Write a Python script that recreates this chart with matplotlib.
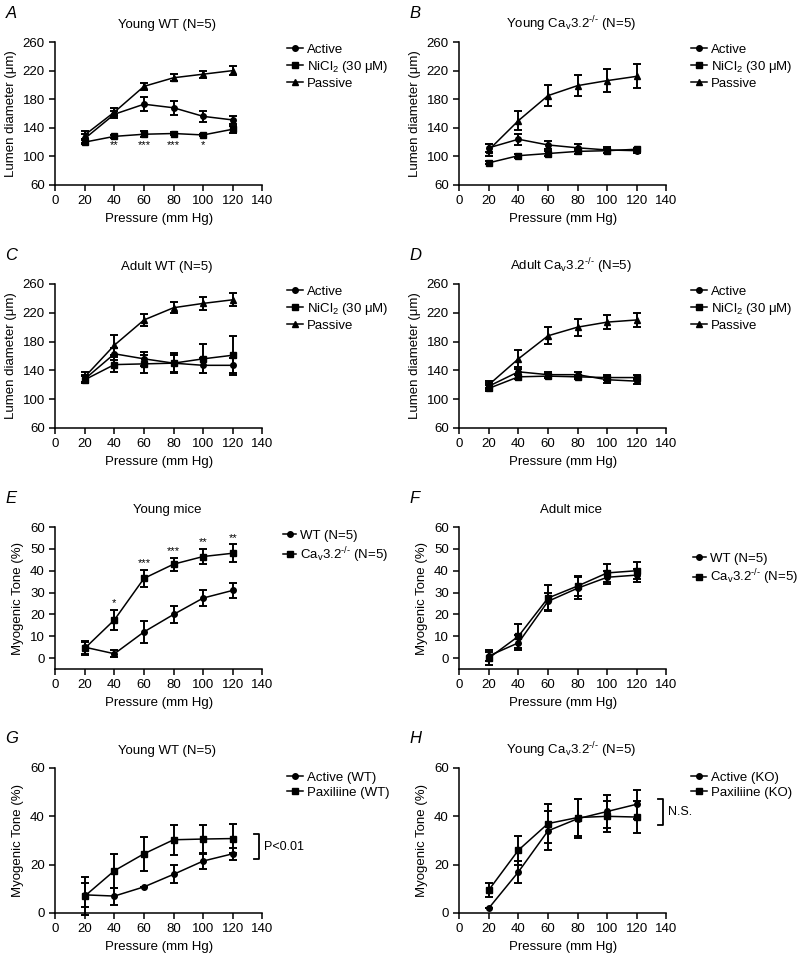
import matplotlib
matplotlib.use("Agg")
import matplotlib.pyplot as plt
import numpy as np

plt.rcParams['font.family'] = ['Liberation Sans', 'DejaVu Sans']
plt.rcParams['mathtext.fontset'] = 'custom'
plt.rcParams['mathtext.rm'] = 'Liberation Sans'
plt.rcParams['mathtext.it'] = 'Liberation Sans:italic'

pressure = [20, 40, 60, 80, 100, 120]
CAV = r'Ca$_\mathrm{v}$3.2$^{\text{-/-}}$'

# A: young WT lumen diameter
a_active = [125, 159, 173, 168, 156, 151]
a_active_err = [6, 5, 10, 10, 8, 6]
a_nicl = [120, 128, 131, 132, 130, 138]
a_nicl_err = [3, 2, 4, 2, 2, 5]
a_passive = [130, 162, 198, 210, 215, 220]
a_passive_err = [6, 5, 5, 5, 5, 6]
a_star_x = [40, 60, 80, 100]
a_star_txt = ['**', '***', '***', '*']

# B: young Cav3.2-/- lumen diameter
b_active = [112, 124, 116, 112, 109, 108]
b_active_err = [6, 8, 6, 5, 4, 3]
b_nicl = [91, 101, 104, 107, 108, 110]
b_nicl_err = [2, 3, 3, 3, 3, 2]
b_passive = [109, 150, 185, 199, 206, 212]
b_passive_err = [8, 13, 15, 15, 16, 17]

# C: adult WT lumen diameter
c_active = [128, 163, 156, 150, 147, 147]
c_active_err = [6, 8, 10, 12, 10, 10]
c_nicl = [127, 148, 149, 150, 156, 161]
c_nicl_err = [5, 10, 12, 14, 20, 27]
c_passive = [131, 175, 210, 227, 233, 238]
c_passive_err = [7, 14, 8, 8, 9, 9]

# D: adult Cav3.2-/- lumen diameter
d_active = [118, 138, 134, 134, 127, 125]
d_active_err = [4, 4, 4, 4, 4, 4]
d_nicl = [115, 131, 132, 131, 130, 130]
d_nicl_err = [4, 3, 3, 3, 3, 4]
d_passive = [120, 156, 188, 200, 207, 210]
d_passive_err = [5, 12, 12, 12, 10, 10]

# E: young mice myogenic tone
e_wt = [5, 2, 12, 20, 27.5, 31]
e_wt_err = [3, 1.5, 5, 4, 3.5, 3.5]
e_ko = [4.5, 17.5, 36.5, 43, 46.5, 48]
e_ko_err = [3, 4.5, 4, 3, 3.5, 4]
e_star_txt = ['*', '***', '***', '**', '**']

# F: adult mice myogenic tone
f_wt = [1, 7, 26, 32, 37, 38]
f_wt_err = [2.5, 3.5, 4, 5, 3, 3]
f_ko = [0, 10, 27.5, 33, 39, 40]
f_ko_err = [3, 5.5, 6, 4.5, 4, 4]

# G: young WT, active vs paxilline
g_active = [7.5, 7, 10.8, 16, 21.5, 24.5]
g_active_err = [5, 3.5, 0, 3.8, 3.5, 2.5]
g_pax = [7, 17.5, 24.5, 30.3, 30.6, 30.8]
g_pax_err = [8, 7, 7, 6.3, 6, 6]
g_bracket = (22.5, 32.5)

# H: young Cav3.2-/-, active vs paxilline
h_active = [2, 17, 34, 39, 42, 45]
h_active_err = [0, 4.5, 8, 8, 7, 6]
h_pax = [9.5, 26, 37, 39.5, 40, 39.7]
h_pax_err = [3, 6, 8, 7.5, 6.5, 6.5]
h_bracket = (36.5, 47)

fig = plt.figure(figsize=(8, 9.57), dpi=100)
W = 0.259
cols = [0.069, 0.574]
rows = [(0.8067, 0.1494), (0.5528, 0.1505), (0.3009, 0.1484), (0.046, 0.1515)]


def make_ax(r, c):
    b, h = rows[r]
    ax = fig.add_axes([cols[c], b, W, h])
    ax.spines['top'].set_visible(False)
    ax.spines['right'].set_visible(False)
    ax.spines['left'].set_linewidth(1.1)
    ax.spines['bottom'].set_linewidth(1.1)
    ax.tick_params(direction='out', length=4, width=1.1, labelsize=9.5)
    ax.set_xlim(0, 140)
    ax.set_xticks(np.arange(0, 141, 20))
    ax.set_xlabel('Pressure (mm Hg)', fontsize=9.5, labelpad=4)
    return ax


def series(ax, y, err, marker, ms):
    cont = ax.errorbar(pressure, y, yerr=err, fmt='-', marker=marker, color='black',
                       ms=ms, lw=1.1, elinewidth=1.4, capsize=2.8, capthick=1.4,
                       clip_on=False, zorder=3)
    return cont[0]


def legend(ax, handles, labels, x, y, hl=1.2):
    ax.legend(handles, labels, loc='upper left', bbox_to_anchor=(x, y), frameon=False,
              fontsize=9.5, handlelength=hl, handletextpad=0.3, labelspacing=0.22,
              borderpad=0, borderaxespad=0)


def letter(ax, s):
    ax.text(-0.24, 1.2, s, transform=ax.transAxes, fontsize=12, style='italic',
            ha='left', va='center')


def title(ax, s):
    ax.set_title(s, fontsize=9.5, x=0.54, pad=10)


diam_panels = [
    (0, 0, 'A', 'Young WT (N=5)', a_active, a_active_err, a_nicl, a_nicl_err, a_passive, a_passive_err),
    (0, 1, 'B', 'Young ' + CAV + ' (N=5)', b_active, b_active_err, b_nicl, b_nicl_err, b_passive, b_passive_err),
    (1, 0, 'C', 'Adult WT (N=5)', c_active, c_active_err, c_nicl, c_nicl_err, c_passive, c_passive_err),
    (1, 1, 'D', 'Adult ' + CAV + ' (N=5)', d_active, d_active_err, d_nicl, d_nicl_err, d_passive, d_passive_err),
]

for r, c, let, ttl, act, acte, ni, nie, pa, pae in diam_panels:
    ax = make_ax(r, c)
    h1 = series(ax, act, acte, 'o', 4)
    h2 = series(ax, ni, nie, 's', 4.5)
    h3 = series(ax, pa, pae, '^', 5)
    ax.set_ylim(60, 260)
    ax.set_yticks(np.arange(60, 261, 40))
    ax.set_ylabel('Lumen diameter (μm)', fontsize=9.5, labelpad=4)
    title(ax, ttl)
    letter(ax, let)
    legend(ax, [h1, h2, h3], ['Active', 'NiCl$_2$ (30 μM)', 'Passive'], 1.12, 0.99)
    if let == 'A':
        for x, s in zip(a_star_x, a_star_txt):
            ax.text(x, 109, s, ha='center', va='bottom', fontsize=8)

# E
ax = make_ax(2, 0)
h1 = series(ax, e_wt, e_wt_err, 'o', 4)
h2 = series(ax, e_ko, e_ko_err, 's', 4.5)
ax.set_ylim(-5, 60)
ax.set_yticks(np.arange(0, 61, 10))
ax.set_ylabel('Myogenic Tone (%)', fontsize=9.5, labelpad=4)
title(ax, 'Young mice')
letter(ax, 'E')
legend(ax, [h1, h2], ['WT (N=5)', CAV + ' (N=5)'], 1.10, 0.98, hl=1.0)
for x, v, e, s in zip(pressure[1:], e_ko[1:], e_ko_err[1:], e_star_txt):
    ax.text(x, v + e + 0.8, s, ha='center', va='bottom', fontsize=8)

# F
ax = make_ax(2, 1)
h1 = series(ax, f_wt, f_wt_err, 'o', 4)
h2 = series(ax, f_ko, f_ko_err, 's', 4.5)
ax.set_ylim(-5, 60)
ax.set_yticks(np.arange(0, 61, 10))
ax.set_ylabel('Myogenic Tone (%)', fontsize=9.5, labelpad=4)
title(ax, 'Adult mice')
letter(ax, 'F')
legend(ax, [h1, h2], ['WT (N=5)', CAV + ' (N=5)'], 1.126, 0.82, hl=1.0)

# G, H
tone_panels = [
    (3, 0, 'G', 'Young WT (N=5)', g_active, g_active_err, g_pax, g_pax_err,
     ['Active (WT)', 'Paxiliine (WT)'], g_bracket, 'P<0.01'),
    (3, 1, 'H', 'Young ' + CAV + ' (N=5)', h_active, h_active_err, h_pax, h_pax_err,
     ['Active (KO)', 'Paxiliine (KO)'], h_bracket, 'N.S.'),
]
for r, c, let, ttl, act, acte, pax, paxe, labs, br, brtxt in tone_panels:
    ax = make_ax(r, c)
    h1 = series(ax, act, acte, 'o', 4)
    h2 = series(ax, pax, paxe, 's', 4.5)
    ax.set_ylim(0, 60)
    ax.set_yticks(np.arange(0, 61, 20))
    ax.set_ylabel('Myogenic Tone (%)', fontsize=9.5, labelpad=4)
    title(ax, ttl)
    letter(ax, let)
    legend(ax, [h1, h2], labs, 1.12, 0.975)
    lo, hi = br
    ax.plot([134.5, 138, 138, 134.5], [hi, hi, lo, lo], color='black', lw=1.3, clip_on=False)
    ax.text(141, (lo + hi) / 2, brtxt, ha='left', va='center', fontsize=9)

fig.savefig('out.png', dpi=100)
